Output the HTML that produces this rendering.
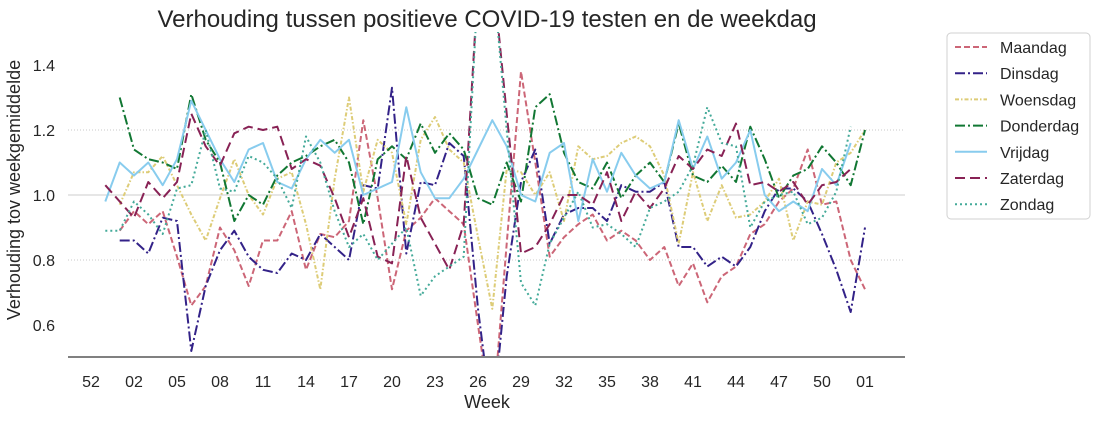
<!DOCTYPE html>
<html><head><meta charset="utf-8"><style>
body{margin:0;background:#fff;}
svg text{font-family:"Liberation Sans",sans-serif;fill:#262626;}
</style></head><body>
<svg id="chart" width="1105" height="418" xmlns="http://www.w3.org/2000/svg">
<text x="487" y="27" text-anchor="middle" font-size="24">Verhouding tussen positieve COVID-19 testen en de weekdag</text>
<text transform="translate(20,190) rotate(-90)" text-anchor="middle" font-size="18">Verhouding tov weekgemiddelde</text>
<text x="487" y="408" text-anchor="middle" font-size="18">Week</text>
<g id="grid"></g><g id="yticks"></g><g id="xticks"></g>
<defs><clipPath id="clip"><rect x="68" y="32" width="840" height="325"/></clipPath></defs>
<g id="series" clip-path="url(#clip)"></g>
<line x1="68" x2="905" y1="357" y2="357" stroke="#808080" stroke-width="2"/>
<g id="legend"></g>
</svg>
<script>
const xTickLabels=["52","02","05","08","11","14","17","20","23","26","29","32","35","38","41","44","47","50","01"];
const yTickValues=[0.6,0.8,1.0,1.2,1.4];
const seriesNames=["Maandag","Dinsdag","Woensdag","Donderdag","Vrijdag","Zaterdag","Zondag"];
const N=null;
const maandag=[N,N,.89,.95,.91,.95,.81,.66,.72,.90,.83,.72,.86,.86,.95,.77,.88,.87,.92,1.23,.99,.71,.89,.93,.99,.95,.91,.6,.3,.85,1.38,1.10,.81,.87,.91,.94,.86,.89,.86,.80,.84,.72,.79,.67,.75,.78,.88,.91,.98,1.02,1.14,.97,.98,.80,.71];
const dinsdag=[N,N,.86,.86,.82,.93,.92,.52,.72,.83,.89,.81,.77,.76,.82,.80,.88,.84,.80,1.03,1.02,1.33,.82,1.04,1.03,1.16,1.12,.65,.3,.75,1.04,1.14,.85,.94,.96,.96,.92,1.03,1.01,1.01,1.04,.84,.84,.78,.81,.78,.84,.95,1.02,1.02,.98,.88,.77,.64,.90];
const woensdag=[N,N,.97,1.07,1.07,1.12,1.03,.94,.86,.99,1.11,1.0,.94,1.05,1.07,.91,.71,1.05,1.30,1.01,1.17,1.13,.91,1.17,1.24,1.14,1.10,.87,.65,1.08,1.07,1.0,1.07,.92,1.15,1.11,1.12,1.16,1.18,1.15,1.06,.85,1.07,.92,1.03,.93,.94,.98,1.05,.86,.98,.97,1.10,1.13,1.20];
const donderdag=[N,N,1.30,1.14,1.11,1.10,1.08,1.31,1.17,1.10,.92,1.0,.97,1.06,1.10,1.12,1.15,1.17,1.10,.91,1.11,1.15,1.11,1.22,1.13,1.19,1.14,.99,.97,1.10,.98,1.27,1.31,1.13,1.04,1.02,1.10,.99,1.06,1.10,1.04,1.22,1.06,1.04,1.09,1.04,1.21,1.11,.99,1.06,1.08,1.15,1.10,1.03,1.20];
const vrijdag=[N,.98,1.10,1.06,1.10,1.03,1.11,1.29,1.20,1.11,1.04,1.14,1.16,1.04,1.02,1.11,1.17,1.13,1.17,1.0,1.02,1.04,1.27,1.07,.99,.99,1.05,1.14,1.23,1.15,1.0,.98,1.13,1.16,.92,1.11,1.01,1.13,1.06,1.02,1.04,1.23,1.08,1.18,1.05,1.10,1.20,1.0,.95,.98,.95,1.08,1.03,1.16,N];
const zaterdag=[N,1.03,.98,.93,1.04,.99,1.04,1.25,1.15,1.09,1.19,1.21,1.20,1.21,1.08,1.11,1.09,.99,.87,.99,.81,.79,1.12,.93,.85,.77,.91,1.65,1.7,1.25,.82,.84,.91,1.0,1.0,.97,1.07,.92,1.01,.96,1.02,1.12,1.08,1.14,1.12,1.22,1.03,1.04,1.01,1.04,.97,1.03,1.04,1.08,N];
const zondag=[N,.89,.89,.98,.94,.88,1.02,1.03,1.20,1.02,1.01,1.12,1.10,1.05,.96,1.18,1.10,.95,.84,.88,.80,.85,.90,.69,.75,.78,.81,1.65,1.7,1.2,.73,.66,.85,.93,1.01,.90,.91,.88,.84,.96,.98,1.01,1.09,1.27,1.16,1.15,.90,.98,1.0,1.01,.91,.93,1.01,1.21,N];
const allSeries=[maandag,dinsdag,woensdag,donderdag,vrijdag,zaterdag,zondag];
const colors=["#cc6677","#332288","#ddcc77","#117733","#88ccee","#882255","#44aa99"];
const dashes=["6,3","10,3,2,3","4,2,1.5,2","10,3,2,3","","10,5","2,3"];
const NS="http://www.w3.org/2000/svg";
const xScale=i=>91+i*(865-91)/54;
const yScale=v=>65+(1.4-v)*325;
function mk(tag,attrs,parent){const e=document.createElementNS(NS,tag);for(const k in attrs)e.setAttribute(k,attrs[k]);parent.appendChild(e);return e;}
const grid=document.getElementById('grid'),yt=document.getElementById('yticks'),xt=document.getElementById('xticks');
[0.8,1.0,1.2].forEach(v=>{
 const l=mk('line',{x1:68,x2:905,y1:yScale(v),y2:yScale(v),stroke:v===1?"#cccccc":"#c8c8c8","stroke-width":1,"stroke-dasharray":v===1?"":"1,2"},grid);
 
 
});
yTickValues.forEach(v=>{
 const t=mk('text',{x:55,y:yScale(v)+6,"text-anchor":"end","font-size":16},yt);t.textContent=v.toFixed(1);
 
 
});
xTickLabels.forEach((s,k)=>{
 const t=mk('text',{x:xScale(k*3),y:387,"text-anchor":"middle","font-size":16},xt);t.textContent=s;
 
 
});
const sg=document.getElementById('series');
allSeries.forEach((arr,s)=>{
 let d="",pen=false;
 arr.forEach((v,i)=>{if(v===null){pen=false;return;}d+=(pen?"L":"M")+xScale(i).toFixed(1)+","+yScale(v).toFixed(1);pen=true;});
 const p=mk('path',{d:d,fill:"none",stroke:colors[s],"stroke-width":2,"stroke-dasharray":dashes[s],"stroke-linejoin":"round"},sg);
 
 
});
const lg=document.getElementById('legend');
const box=mk('rect',{x:947,y:33,width:143,height:186,rx:4,fill:"#fff",stroke:"#d0d0d0"},lg);


seriesNames.forEach((n,s)=>{
 const y=47+s*26.2;
 const g=mk('g',{},lg);
 
 
 mk('line',{x1:955,x2:987,y1:y,y2:y,stroke:colors[s],"stroke-width":2,"stroke-dasharray":dashes[s]},g);
 const t=mk('text',{x:1000,y:y+6,"font-size":16},g);t.textContent=n;
});
</script>
</body></html>
